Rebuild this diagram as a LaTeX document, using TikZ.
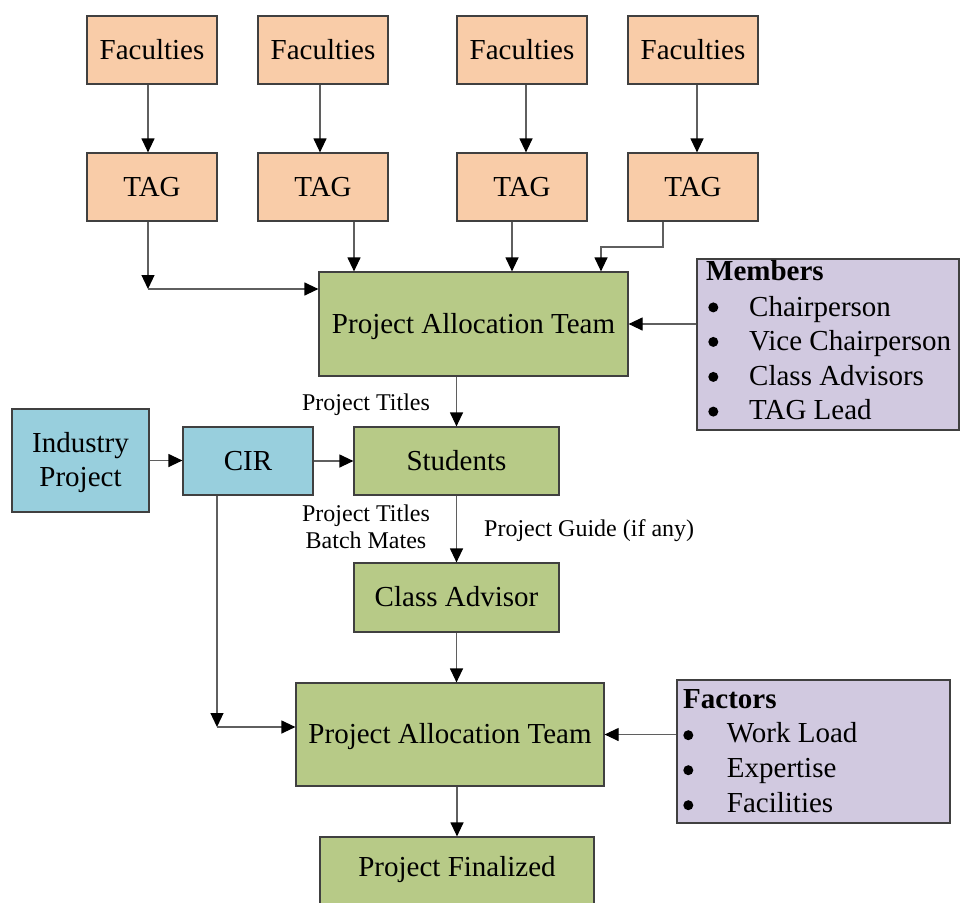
\documentclass[tikz,border=0pt]{standalone}
\usepackage{fontspec}
\setmainfont{Liberation Serif}
\usetikzlibrary{arrows.meta}

\definecolor{peach}{RGB}{249,204,168}
\definecolor{leaf}{RGB}{183,202,135}
\definecolor{sky}{RGB}{152,207,221}
\definecolor{lilac}{RGB}{209,201,224}
\definecolor{rim}{RGB}{64,64,64}
\definecolor{wire}{RGB}{95,95,95}

\begin{document}
\begin{tikzpicture}[x=1pt,y=-1pt,
  frame/.style={draw=rim, line width=1.2pt, inner sep=0pt,
    font=\fontsize{29}{34}\selectfont},
  boxtext/.style={frame, text height=18.6pt, text depth=0pt},
  tagbox/.style={boxtext, fill=peach, minimum width=130pt, minimum height=68pt},
  greenbox/.style={boxtext, fill=leaf},
  bluebox/.style={fill=sky},
  listbox/.style={frame, fill=lilac},
  arr/.style={draw=wire, line width=1.2pt, -{Triangle[length=14pt,width=13pt,black]}},
  lbl/.style={inner sep=0pt, font=\fontsize{24}{26.3}\selectfont},
  item/.style={inner sep=0pt, font=\fontsize{29}{34}\selectfont},
  dot/.style={circle, fill=black, inner sep=0pt, minimum size=10pt},
]
\useasboundingbox (0,0) rectangle (960,902);
\fill[white] (0,0) rectangle (960,902);
\clip (0,0) rectangle (960,902);

% faculty and TAG rows
\node[tagbox] (fac1) at (152,50) {Faculties};
\node[tagbox] (fac2) at (323,50) {Faculties};
\node[tagbox] (fac3) at (522,50) {Faculties};
\node[tagbox] (fac4) at (693,50) {Faculties};
\node[tagbox] (tag1) at (152,187) {TAG};
\node[tagbox] (tag2) at (323,187) {TAG};
\node[tagbox] (tag3) at (522,187) {TAG};
\node[tagbox] (tag4) at (693,187) {TAG};

% first allocation stage
\node[greenbox, minimum width=309pt, minimum height=104pt] (pat1) at (473.5,324) {Project Allocation Team};
\node[listbox, minimum width=262pt, minimum height=171pt] (members) at (828,344.5) {};

% industry path and students
\node[frame, bluebox, align=center, minimum width=137pt, minimum height=103pt] (ind) at (80.5,460.5) {\strut Industry\\Project};
\node[boxtext, bluebox, minimum width=130pt, minimum height=68pt] (cir) at (248,461) {CIR};
\node[greenbox, minimum width=205pt, minimum height=68pt] (stud) at (456.5,461) {Students};
\node[greenbox, minimum width=205pt, minimum height=69pt] (adv) at (456.5,597.5) {Class Advisor};

% second allocation stage
\node[greenbox, minimum width=308pt, minimum height=103pt] (pat2) at (450,734.5) {Project Allocation Team};
\node[listbox, minimum width=273pt, minimum height=143pt] (factors) at (813.5,751.5) {};
\node[greenbox, text depth=9.2pt, minimum width=274pt, minimum height=70pt] (fin) at (457,872) {Project Finalized};

% member list
\node[item, anchor=base west, font=\fontsize{29}{34}\selectfont\bfseries] (memhead) at (706,280.7) {Members};
\foreach \y/\d/\t [count=\i] in {316/307.4/Chairperson, 350.5/341.9/Vice Chairperson, 385/376.9/Class Advisors, 419.5/411.6/TAG Lead}{
  \node[dot] (mb\i) at (713.3,\d) {};
  \node[item, anchor=base west] (mt\i) at (749,\y) {\t};
}

% factor list
\node[item, anchor=base west, font=\fontsize{29}{34}\selectfont\bfseries] (fachead) at (683,708.3) {Factors};
\foreach \y/\d/\t [count=\i] in {742.7/735.2/Work Load, 777.7/770.2/Expertise, 812.7/805.2/Facilities}{
  \node[dot] (fb\i) at (688.3,\d) {};
  \node[item, anchor=base west] (ft\i) at (726.7,\y) {\t};
}

% connector labels
\node[lbl, anchor=base] (ltitles) at (366,410) {Project Titles};
\node[lbl, align=center] (lbatch) at (366,526.7) {Project Titles\\Batch Mates};
\node[lbl, anchor=base west] (lguide) at (484,536.7) {Project Guide (if any)};

% faculties to TAGs
\draw[arr] ([xshift=-4pt]fac1.south) -- ([xshift=-4pt]tag1.north);
\draw[arr] ([xshift=-3pt]fac2.south) -- ([xshift=-3pt]tag2.north);
\draw[arr] ([xshift=4pt]fac3.south) -- ([xshift=4pt]tag3.north);
\draw[arr] ([xshift=4pt]fac4.south) -- ([xshift=4pt]tag4.north);

% TAGs to the allocation team
\coordinate (c1) at (148,289);
\draw[arr] ([xshift=-4pt]tag1.south) -- (c1);
\draw[arr] (c1) -- (c1 -| pat1.west);
\draw[arr] ([xshift=31pt]tag2.south) -- ([xshift=31pt]tag2.south |- pat1.north);
\draw[arr] ([xshift=-10pt]tag3.south) -- ([xshift=-10pt]tag3.south |- pat1.north);
\coordinate (c4) at (601,247);
\draw[arr] ([xshift=-30pt]tag4.south) |- (c4) -- (c4 |- pat1.north);
\draw[arr] (pat1.east -| members.west) -- (pat1.east);

% flow through students
\draw[arr] (stud.north |- pat1.south) -- (stud.north);
\draw[arr] (ind.east) -- (ind.east -| cir.west);
\draw[arr] (cir.east) -- (cir.east -| stud.west);
\draw[arr] (stud.south) -- (adv.north);

% CIR direct path and second stage
\coordinate (c2) at (217,727);
\draw[arr] ([xshift=-31pt]cir.south) -- (c2);
\draw[arr] (c2) -- (c2 -| pat2.west);
\draw[arr] (adv.south) -- (adv.south |- pat2.north);
\draw[arr] (pat2.east -| factors.west) -- (pat2.east);
\draw[arr] (fin.north |- pat2.south) -- (fin.north);
\end{tikzpicture}
\end{document}
